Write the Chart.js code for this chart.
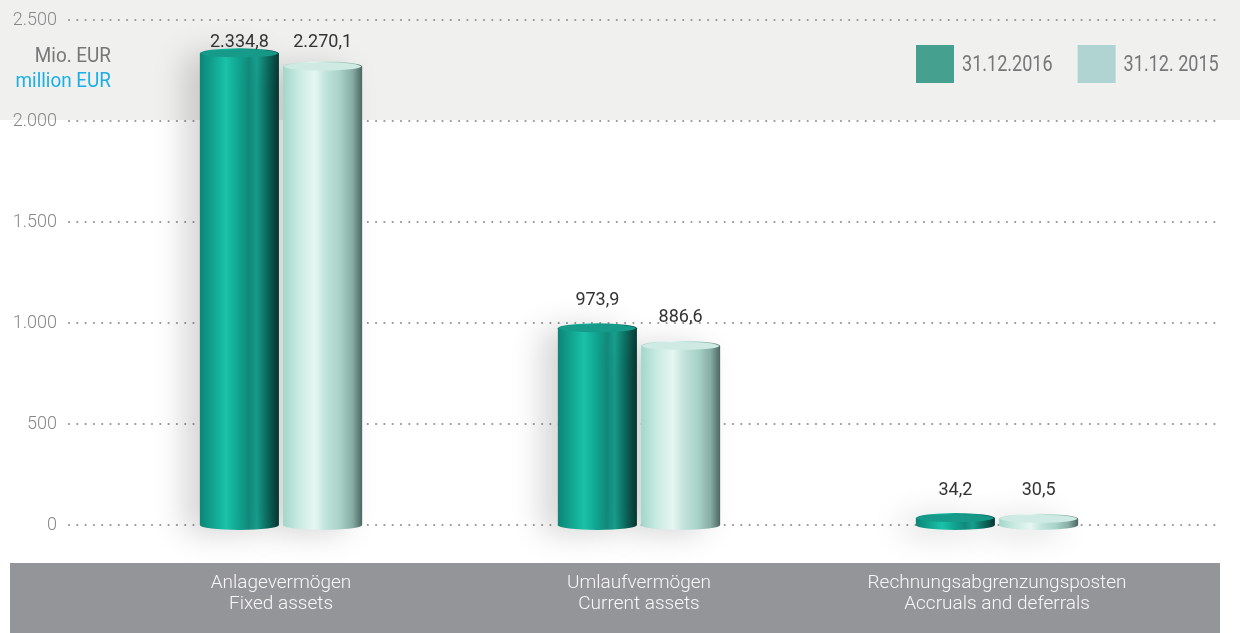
<!DOCTYPE html>
<html>
<head>
<meta charset="utf-8">
<script src="https://cdn.jsdelivr.net/npm/chart.js@4/dist/chart.umd.min.js"></script>
<style>
  html, body { margin: 0; padding: 0; background: #ffffff; }
  #wrap { width: 1240px; height: 633px; }
</style>
</head>
<body>
<div id="wrap"><canvas id="barChart" width="1240" height="633"></canvas></div>
<script>
// chart data
const categories = [
    ['Anlagevermögen', 'Fixed assets'],
    ['Umlaufvermögen', 'Current assets'],
    ['Rechnungsabgrenzungsposten', 'Accruals and deferrals']
];
const seriesLabels = ['31.12.2016', '31.12. 2015'];
const values2016 = [2334.8, 973.9, 34.2];
const values2015 = [2270.1, 886.6, 30.5];
const yTicks = [0, 500, 1000, 1500, 2000, 2500];
const yTickLabels = ['0', '500', '1.000', '1.500', '2.000', '2.500'];
const legendColors = ['#45a08f', '#afd4d1'];

// gradient stops that fake the cylinder look
const barStops = [
    [[0, '#0c8577'], [0.18, '#12a690'], [0.33, '#19c2a8'], [0.5, '#10a28e'], [0.62, '#12897b'], [0.72, '#17a08f'], [0.86, '#0d6d61'], [1, '#083a35']],
    [[0, '#a3d6c9'], [0.2, '#c9ebe2'], [0.4, '#e6f6f2'], [0.55, '#bfe2d9'], [0.72, '#a8d2c7'], [0.88, '#87aca3'], [1, '#4c6661']]
];
const capColors = ['#169a89', '#cfeae3'];

const fmt = (v) => {
    const parts = v.toFixed(1).split('.');
    return parts[0].replace(/\B(?=(\d{3})+(?!\d))/g, '.') + ',' + parts[1];
};

const font = (size, weight) => (weight || 'normal') + ' ' + size + 'px Roboto, "Liberation Sans", sans-serif';

// draw text squeezed horizontally (reference uses a condensed face)
const narrowText = (ctx, text, x, y, sx) => {
    ctx.save();
    ctx.translate(x, y);
    ctx.scale(sx, 1);
    ctx.fillText(text, 0, 0);
    ctx.restore();
};

const decorPlugin = {
    id: 'decor',
    beforeDraw(chart) {
        const ctx = chart.ctx;
        ctx.save();
        ctx.fillStyle = '#ffffff';
        ctx.fillRect(0, 0, chart.width, chart.height);
        // light band at the top
        ctx.fillStyle = '#f0f0ef';
        ctx.fillRect(0, 0, chart.width, chart.scales.y.getPixelForValue(2000) - 1);
        // gray band for the category labels
        ctx.fillStyle = '#939598';
        ctx.fillRect(10, 563, 1210, chart.height - 563);
        ctx.restore();
    },
    beforeDatasetsDraw(chart) {
        // dotted grid lines across the whole width
        const ctx = chart.ctx;
        const y = chart.scales.y;
        ctx.save();
        ctx.strokeStyle = '#959595';
        ctx.lineWidth = 2.2;
        ctx.lineCap = 'round';
        ctx.setLineDash([0, 8.3]);
        yTicks.forEach(t => {
            const py = Math.round(y.getPixelForValue(t));
            ctx.beginPath();
            ctx.moveTo(69, py);
            ctx.lineTo(1220, py);
            ctx.stroke();
        });
        ctx.restore();
    },
    afterDatasetsDraw(chart) {
        const ctx = chart.ctx;
        ctx.save();
        chart.data.datasets.forEach((ds, di) => {
            chart.getDatasetMeta(di).data.forEach((bar) => {
                const w = bar.width;
                const left = bar.x - w / 2;
                const ry = 5;
                const g = ctx.createLinearGradient(left, 0, left + w, 0);
                barStops[di].forEach(s => g.addColorStop(s[0], s[1]));
                // soft floor shadow
                ctx.save();
                ctx.shadowColor = 'rgba(0,0,0,0.16)';
                ctx.shadowBlur = 30;
                ctx.shadowOffsetX = -16;
                ctx.shadowOffsetY = 4;
                ctx.fillStyle = g;
                ctx.beginPath();
                ctx.moveTo(left, bar.y);
                ctx.lineTo(left, bar.base);
                ctx.ellipse(bar.x, bar.base, w / 2, ry, 0, Math.PI, 0, true);
                ctx.lineTo(left + w, bar.y);
                ctx.ellipse(bar.x, bar.y, w / 2, ry, 0, 0, Math.PI, true);
                ctx.closePath();
                ctx.fill();
                ctx.restore();
                // top cap
                ctx.fillStyle = capColors[di];
                ctx.beginPath();
                ctx.ellipse(bar.x, bar.y, w / 2 - 1, ry - 1, 0, 0, Math.PI * 2);
                ctx.fill();
            });
        });
        ctx.restore();
    },
    afterDraw(chart) {
        const ctx = chart.ctx;
        ctx.save();
        // value labels
        ctx.fillStyle = '#333333';
        ctx.font = font(18);
        ctx.textAlign = 'center';
        ctx.textBaseline = 'middle';
        chart.data.datasets.forEach((ds, di) => {
            chart.getDatasetMeta(di).data.forEach((bar, i) => {
                ctx.fillText(fmt(ds.data[i]), bar.x, Math.max(bar.y - 28, 42));
            });
        });
        // unit label
        ctx.textAlign = 'right';
        ctx.font = font(21);
        ctx.fillStyle = '#777777';
        narrowText(ctx, 'Mio. EUR', 111, 57, 0.9);
        ctx.fillStyle = '#1aaee6';
        narrowText(ctx, 'million EUR', 111, 82, 0.9);
        // legend
        ctx.textAlign = 'left';
        ctx.font = font(22);
        const sx = 0.82;
        let x = 916;
        seriesLabels.forEach((lab, i) => {
            ctx.fillStyle = legendColors[i];
            ctx.fillRect(x, 45, 38, 38);
            ctx.fillStyle = '#777777';
            narrowText(ctx, lab, x + 46, 65, sx);
            x += 46 + ctx.measureText(lab).width * sx + 25;
        });
        ctx.restore();
    }
};

new Chart(document.getElementById('barChart').getContext('2d'), {
    type: 'bar',
    data: {
        labels: categories,
        datasets: [
            { label: seriesLabels[0], data: values2016, backgroundColor: 'rgba(0,0,0,0)' },
            { label: seriesLabels[1], data: values2015, backgroundColor: 'rgba(0,0,0,0)' }
        ]
    },
    options: {
        responsive: false,
        animation: false,
        devicePixelRatio: 1,
        barPercentage: 0.95,
        categoryPercentage: 0.465,
        layout: { padding: { top: 20, right: 64, left: 0, bottom: 0 } },
        plugins: {
            legend: { display: false },
            tooltip: { enabled: false }
        },
        scales: {
            x: {
                grid: { display: false, drawTicks: false },
                border: { display: false },
                ticks: {
                    color: '#f8f8f8',
                    font: { family: 'Roboto', size: 19, weight: 300, lineHeight: 1.1 },
                    padding: 48,
                    maxRotation: 0,
                    autoSkip: false
                },
                afterFit: (s) => { s.height = 108; s.paddingTop = 0; }
            },
            y: {
                min: 0,
                max: 2500,
                grid: { display: false, drawTicks: false },
                border: { display: false },
                ticks: {
                    stepSize: 500,
                    color: '#888888',
                    font: { family: 'Roboto', size: 18, weight: 300 },
                    padding: 45,
                    callback: (v, i) => yTickLabels[i]
                },
                afterFit: (s) => { s.width = 102; s.paddingTop = 0; s.paddingBottom = 0; }
            }
        }
    },
    plugins: [decorPlugin]
});
</script>
</body>
</html>
